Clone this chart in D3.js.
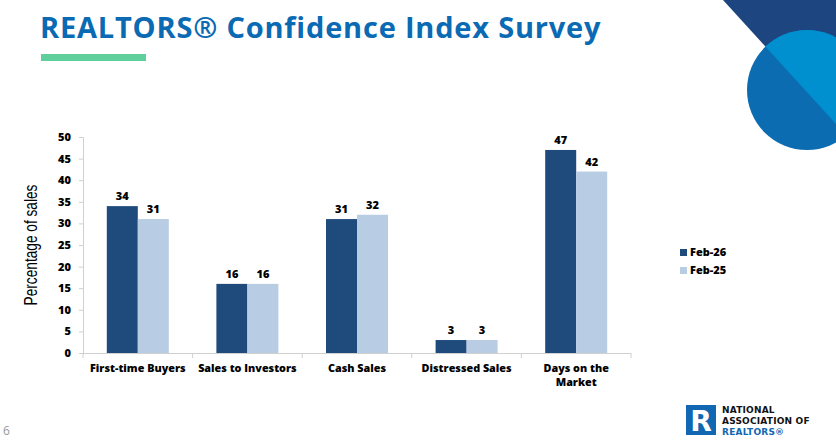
<!DOCTYPE html>
<html lang="en">
<head>
<meta charset="utf-8">
<title>REALTORS Confidence Index Survey</title>
<script src="https://d3js.org/d3.v7.min.js"></script>
<style>
  body { margin: 0; background: #fff; }
  svg { display: block; }
  .bold { font-family: "Open Sans", "DejaVu Sans", sans-serif; font-weight: 800; }
</style>
</head>
<body>
<svg id="chart"></svg>
<script>
var categories = ["First-time Buyers", "Sales to Investors", "Cash Sales", "Distressed Sales", "Days on the Market"];
var seriesNames = ["Feb-26", "Feb-25"];
var feb26 = [34, 16, 31, 3, 47];
var feb25 = [31, 16, 32, 3, 42];
var yTicks = [0, 5, 10, 15, 20, 25, 30, 35, 40, 45, 50];
var colors = ["#1f4a7c", "#b8cce4"];

var width = 836, height = 443;
var svg = d3.select("#chart").attr("width", width).attr("height", height);

// top-right decoration
svg.append("polygon").attr("points", "723,0 836,0 836,124").attr("fill", "#1d4580");
var clip = svg.append("defs").append("clipPath").attr("id", "upper");
clip.append("polygon").attr("points", "723,0 836,0 836,124");
svg.append("circle").attr("cx", 807).attr("cy", 90).attr("r", 60).attr("fill", "#0c6cb1");
svg.append("circle").attr("cx", 807).attr("cy", 90).attr("r", 60).attr("fill", "#0090cf")
  .attr("clip-path", "url(#upper)");

// title
svg.append("text").attr("x", 40).attr("y", 38)
  .style("font-family", "'Open Sans', sans-serif").style("font-weight", 700)
  .attr("font-size", 29).attr("letter-spacing", 0.8).attr("fill", "#0a6ab3")
  .text("REALTORS® Confidence Index Survey");
svg.append("rect").attr("x", 41).attr("y", 54).attr("width", 105).attr("height", 7).attr("fill", "#5fcf9c");

// chart
var x0 = d3.scaleBand().domain(categories).range([83, 631]);
var x1 = d3.scaleBand().domain(seriesNames).range([0, 62]);
var y = d3.scaleLinear().domain([0, 50]).range([353, 137]);

var yAxis = svg.append("g").attr("transform", "translate(83,0)")
  .call(d3.axisLeft(y).tickValues(yTicks).tickSize(4).tickPadding(8));
yAxis.selectAll("path, line").attr("stroke", "#d0d0d0");
yAxis.selectAll("text").attr("class", "bold").attr("font-size", 11).attr("fill", "#000");

var xAxisG = svg.append("g");
xAxisG.append("line").attr("x1", 83).attr("x2", 631).attr("y1", 353.5).attr("y2", 353.5).attr("stroke", "#d0d0d0");
xAxisG.selectAll(".tk").data(categories.concat(["end"])).enter().append("line")
  .attr("x1", function (d, i) { return i < categories.length ? x0(d) : x0.range()[1]; })
  .attr("x2", function (d, i) { return i < categories.length ? x0(d) : x0.range()[1]; })
  .attr("y1", 353).attr("y2", 358).attr("stroke", "#d0d0d0");

var rows = categories.map(function (c, i) { return { cat: c, vals: [feb26[i], feb25[i]] }; });
var groups = svg.selectAll(".grp").data(rows).enter().append("g")
  .attr("transform", function (d) { return "translate(" + (x0(d.cat) + (x0.bandwidth() - 62) / 2) + ",0)"; });

groups.selectAll("rect").data(function (d) { return d.vals; }).enter().append("rect")
  .attr("x", function (d, i) { return x1(seriesNames[i]); })
  .attr("y", function (d) { return y(d); })
  .attr("width", x1.bandwidth())
  .attr("height", function (d) { return y(0) - y(d); })
  .attr("fill", function (d, i) { return colors[i]; });

groups.selectAll(".val").data(function (d) { return d.vals; }).enter().append("text")
  .attr("class", "bold").attr("font-size", 11).attr("text-anchor", "middle")
  .attr("x", function (d, i) { return x1(seriesNames[i]) + x1.bandwidth() / 2; })
  .attr("y", function (d) { return y(d) - 6; })
  .text(function (d) { return d; });

// category labels
svg.selectAll(".cat").data(categories).enter().append("text")
  .attr("class", "bold").attr("font-size", 10.8).attr("text-anchor", "middle")
  .attr("x", function (d) { return x0(d) + x0.bandwidth() / 2; })
  .attr("y", 372)
  .each(function (d) {
    var t = d3.select(this);
    var lines = d === "Days on the Market" ? ["Days on the", "Market"] : [d];
    lines.forEach(function (l, i) {
      t.append("tspan").attr("x", t.attr("x")).attr("dy", i ? 14 : 0).text(l);
    });
  });

// y title (condensed)
svg.append("text").attr("transform", "translate(37,245) rotate(-90) scale(0.72,1)")
  .attr("text-anchor", "middle").attr("font-size", 19)
  .style("font-family", "'Liberation Sans', sans-serif")
  .text("Percentage of sales");

// legend
var leg = svg.selectAll(".leg").data(seriesNames).enter().append("g")
  .attr("transform", function (d, i) { return "translate(680," + (249 + i * 18) + ")"; });
leg.append("rect").attr("width", 7).attr("height", 7).attr("fill", function (d, i) { return colors[i]; });
leg.append("text").attr("class", "bold").attr("font-size", 11).attr("x", 10).attr("y", 7).text(function (d) { return d; });

// page number
svg.append("text").attr("x", 3).attr("y", 435).attr("font-size", 12).attr("fill", "#999")
  .style("font-family", "'Open Sans', sans-serif").text("6");

// logo
svg.append("rect").attr("x", 686).attr("y", 405).attr("width", 30).attr("height", 30).attr("fill", "#1167b1");
svg.append("text").attr("x", 701).attr("y", 431).attr("text-anchor", "middle").attr("font-size", 28)
  .attr("fill", "#fff").style("font-family", "'DejaVu Sans', sans-serif").style("font-weight", 700).text("R");
var logoLines = [["NATIONAL", "#111"], ["ASSOCIATION OF", "#111"], ["REALTORS®", "#1167b1"]];
svg.selectAll(".logo").data(logoLines).enter().append("text")
  .attr("font-size", 9).attr("letter-spacing", 0.2)
  .style("font-family", "'DejaVu Sans', sans-serif").style("font-weight", 700)
  .attr("x", 722).attr("y", function (d, i) { return 413 + i * 11; })
  .attr("fill", function (d) { return d[1]; })
  .text(function (d) { return d[0]; });
</script>
</body>
</html>
